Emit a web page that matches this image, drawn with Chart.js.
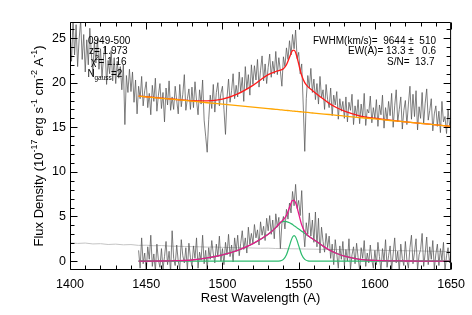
<!DOCTYPE html>
<html>
<head>
<meta charset="utf-8">
<script src="https://cdn.jsdelivr.net/npm/chart.js@4.4.1/dist/chart.umd.min.js"></script>
<style>
  html, body { margin: 0; padding: 0; background: #fff; }
</style>
</head>
<body>
<canvas id="chart" width="472" height="315"></canvas>
<script>
// observed spectrum, 1 A bins from 1400 to 1650
const topStart = 1400
const topFlux = [
  25.8, 22.4, 27.2, 23.1, 26.5, 21.8, 24.9, 27.0, 22.6, 25.4,
  21.2, 24.8, 22.0, 26.1, 23.3, 20.9, 24.6, 22.2, 25.0, 21.5,
  23.8, 20.6, 22.9, 24.1, 19.8, 22.5, 21.0, 23.6, 20.2, 22.8,
  19.9, 22.4, 20.5, 21.8, 19.2, 22.0, 15.3, 20.8, 18.9, 21.5,
  19.0, 21.2, 17.8, 20.3, 16.5, 19.6, 18.2, 20.7, 17.4, 19.1,
  20.1, 17.2, 18.8, 16.4, 19.7, 17.9, 20.5, 16.8, 18.6, 19.9,
  17.1, 18.9, 15.6, 19.4, 17.5, 20.2, 16.9, 18.4, 17.0, 19.6,
  18.0, 16.5, 19.8, 17.3, 18.7, 20.9, 16.9, 18.2, 19.3, 17.0,
  19.5, 17.2, 20.1, 18.0, 16.4, 19.2, 17.6, 20.3, 15.8, 14.0,
  12.2, 15.9, 18.6, 17.1, 19.8, 16.7, 18.9, 20.0, 17.4, 18.8,
  19.6, 17.0, 14.2, 18.3, 20.4, 17.8, 19.1, 21.0, 18.2, 19.7,
  18.4, 21.2, 19.0, 20.6, 17.9, 21.8, 19.3, 20.9, 18.6, 22.0,
  19.8, 21.9, 20.3, 22.6, 19.5, 21.4, 23.0, 20.2, 22.1, 19.9,
  21.7, 23.2, 20.6, 22.4, 21.0, 23.5, 20.9, 22.8, 21.3, 19.6,
  22.9, 21.8, 23.9, 22.6, 24.7, 23.1, 25.4, 23.8, 25.9, 22.7,
  23.4, 21.0, 22.1, 17.5, 12.3, 18.2, 20.8, 19.4, 21.6, 18.9,
  20.4, 18.1, 19.9, 17.6, 20.7, 18.3, 19.2, 17.0, 19.8, 18.1,
  17.2, 19.4, 16.3, 18.6, 17.5, 19.0, 15.9, 18.2, 16.8, 17.9,
  16.0, 18.4, 15.6, 17.8, 16.9, 18.7, 15.3, 17.4, 16.2, 18.1,
  15.4, 17.6, 16.1, 18.8, 15.2, 17.0, 16.6, 18.5, 15.5, 17.2,
  16.0, 18.1, 15.1, 17.5, 16.4, 18.6, 14.9, 17.2, 15.8, 17.9,
  16.3, 18.8, 15.0, 17.4, 19.2, 15.6, 17.0, 18.4, 14.8, 16.9,
  18.0, 15.3, 17.6, 19.6, 15.9, 18.7, 16.2, 19.1, 14.7, 17.3,
  16.0, 18.9, 15.4, 17.7, 19.3, 15.8, 16.9, 18.2, 14.6, 16.5,
  17.4, 15.1, 16.8, 14.4, 17.9, 15.6, 16.2, 14.3, 17.0, 15.2,
  15.8,
]

// continuum-subtracted spectrum, 1 A bins from 1445 to 1650
const lowStart = 1445
const lowFlux = [
  1.2, -0.8, 2.6, -0.3, 0.9,
  -1.2, 1.6, 0.2, 2.9, -0.6, 0.8, -1.1, 1.9, 0.1, -0.7,
  1.4, -0.9, 0.5, 2.2, -0.4, 1.1, -1.3, 3.4, 0.3, -0.5,
  1.8, 0.0, -0.9, 2.4, 0.6, -0.2, 1.5, -1.0, 2.0, 0.4,
  -0.6, 1.7, 0.3, 2.6, -0.8, 1.0, 0.1, 2.9, -0.3, 1.2,
  -0.9, 1.5, 0.2, 2.3, 0.8, -0.2, 1.9, 0.5, 2.8, 0.0,
  1.4, -0.4, 2.1, 0.7, 3.0, 0.5, 1.8, -0.1, 2.6, 1.1,
  2.9, 0.6, 2.0, 3.4, 1.3, 2.6, 0.9, 3.8, 1.9, 3.1,
  2.0, 4.1, 2.6, 3.5, 1.8, 4.4, 2.9, 3.9, 2.3, 4.8,
  3.4, 5.1, 3.0, 4.6, 2.5, 5.3, 3.8, 4.9, 1.4, 4.2,
  5.0, 3.6, 5.8, 4.7, 6.5, 5.4, 7.8, 6.2, 8.6, 5.9,
  6.8, 5.1, 7.9, 3.8, 1.6, 4.3, 3.0, 5.4, 2.8, 4.6,
  2.1, 5.5, 1.6, 4.8, 0.9, 3.8, 2.2, 1.0, 3.1, 1.5,
  2.8, 0.3, 1.9, -0.4, 2.4, 0.8, -0.8, 1.7, 0.2, 2.2,
  -0.5, 1.3, 0.0, 2.5, -0.9, 0.7, 1.6, -0.3, 2.0, 0.4,
  -1.0, 1.5, 0.3, 2.3, -0.6, 0.9, -0.2, 1.8, 0.1, -0.8,
  1.2, -0.4, 2.1, 0.5, -1.1, 1.4, 0.0, 2.4, -0.7, 0.6,
  1.7, -0.9, 0.8, 2.6, -0.2, 1.1, -1.2, 1.9, 0.3, -0.5,
  2.2, 0.1, -0.8, 1.5, 2.9, -0.3, 1.0, 2.5, -1.0, 0.7,
  1.3, 3.1, -0.6, 0.9, 2.7, -0.4, 1.6, 0.2, 2.3, -0.9,
  0.8, 1.9, -0.5, 1.4, 0.1, 2.1, -1.1, 0.6, 1.5, -0.2,
  0.9,
]

// error spectrum, 5 A bins from 1400
const errStart = 1400
const errStep = 5
const errFlux = [
  2.05, 1.98, 2.02, 1.92, 1.95, 1.86, 1.9, 1.82, 1.85, 1.76,
  1.78, 1.72, 1.74, 1.68, 1.66, 1.64, 1.62, 1.6, 1.57, 1.58,
  1.54, 1.52, 1.5, 1.49, 1.46, 1.44, 1.45, 1.41, 1.4, 1.38,
  1.37, 1.35, 1.34, 1.32, 1.3, 1.29, 1.27, 1.26, 1.24, 1.23,
  1.22, 1.2, 1.19, 1.17, 1.16, 1.14, 1.13, 1.11, 1.1, 1.08,
  1.07,
]

// fit curves, sampled on modelWave
const modelWave = [1445, 1460, 1470, 1480, 1490, 1500, 1510, 1520, 1530, 1535, 1538, 1540, 1542, 1544, 1545, 1546, 1547, 1548, 1549, 1550, 1552, 1554, 1556, 1558, 1560, 1565, 1570, 1575, 1580, 1590, 1600, 1610, 1620, 1630, 1640, 1650]
const broadComp = [0, 0.01, 0.04, 0.12, 0.35, 0.7, 1.2, 1.95, 3.0, 3.75, 4.3, 4.45, 4.42, 4.3, 4.2, 4.1, 3.95, 3.85, 3.72, 3.6, 3.35, 3.1, 2.85, 2.62, 2.4, 1.8, 1.25, 0.85, 0.55, 0.2, 0.08, 0.03, 0.01, 0, 0, 0]
const narrowComp = [0, 0, 0, 0, 0, 0, 0, 0, 0, 0, 0.03, 0.19, 0.71, 1.73, 2.28, 2.7, 2.85, 2.7, 2.28, 1.73, 0.71, 0.19, 0.03, 0, 0, 0, 0, 0, 0, 0, 0, 0, 0, 0, 0, 0]
const totalFit = [0, 0.01, 0.04, 0.12, 0.35, 0.7, 1.2, 1.95, 3.0, 3.75, 4.33, 4.64, 5.13, 6.03, 6.48, 6.8, 6.8, 6.55, 6.0, 5.33, 4.06, 3.29, 2.88, 2.62, 2.4, 1.8, 1.25, 0.85, 0.55, 0.2, 0.08, 0.03, 0.01, 0, 0, 0]
const continuum = [18.5, 18.25, 18.09, 17.92, 17.75, 17.59, 17.42, 17.26, 17.09, 17.01, 16.96, 16.92, 16.89, 16.86, 16.84, 16.82, 16.81, 16.79, 16.77, 16.76, 16.72, 16.69, 16.66, 16.62, 16.59, 16.51, 16.43, 16.34, 16.26, 16.09, 15.93, 15.76, 15.6, 15.43, 15.27, 15.1]
const topFit = [18.5, 18.26, 18.11, 17.97, 17.95, 18.15, 18.75, 19.7, 20.9, 21.25, 21.4, 21.55, 22.0, 22.85, 23.3, 23.6, 23.65, 23.38, 22.8, 22.1, 20.8, 20.0, 19.55, 19.25, 18.99, 18.31, 17.68, 17.19, 16.81, 16.29, 16.01, 15.79, 15.61, 15.43, 15.27, 15.1]

// axes
const xMin = 1400, xMax = 1650
const yMin = -1, yMax = 26.8
const xTicks = [1400, 1450, 1500, 1550, 1600, 1650]
const yTicks = [0, 5, 10, 15, 20, 25]
const xMinorStep = 10, yMinorStep = 1

const xTitle = "Rest Wavelength (A)"
// [text, isSuperscript]
const yTitleParts = [["Flux Density (10", false], ["-17", true], [" erg s", false], ["-1", true], [" cm", false], ["-2", true], [" A", false], ["-1", true], [")", false]]
const leftNotes = ["0949-500", "z= 1.973", "1.16", "2"]
const rightNotes = ["FWHM(km/s)=  9644 \u00b1  510", "EW(A)= 13.3 \u00b1   0.6", "S/N=  13.7"]

const FONT = '"Liberation Sans", Arial, Helvetica, sans-serif'

function points(xs, ys) {
  return ys.map((y, i) => ({ x: xs[i], y: y }))
}
function grid(start, step, n) {
  return Array.from({ length: n }, (_, i) => start + i * step)
}

const framePlugin = {
  id: "frame",
  afterDraw(chart) {
    const { ctx, chartArea: a, scales: { x, y } } = chart
    const L = a.left + 0.5, R = a.right - 0.5, T = a.top + 0.5, B = a.bottom - 0.5
    ctx.save()
    ctx.strokeStyle = "#000"
    ctx.lineWidth = 1
    ctx.beginPath()
    ctx.rect(L, T, R - L, B - T)
    for (let v = xMin; v <= xMax; v += xMinorStep) {
      const px = Math.round(x.getPixelForValue(v)) + 0.5
      const len = v % 50 === 0 ? 7 : 4
      ctx.moveTo(px, B); ctx.lineTo(px, B - len)
      ctx.moveTo(px, T); ctx.lineTo(px, T + len)
    }
    for (let v = Math.ceil(yMin) + 1; v <= yMax; v += yMinorStep) {
      const py = Math.round(y.getPixelForValue(v)) + 0.5
      const len = v % 5 === 0 ? 7 : 4
      ctx.moveTo(L, py); ctx.lineTo(L + len, py)
      ctx.moveTo(R, py); ctx.lineTo(R - len, py)
    }
    ctx.stroke()

    // y title with superscripts
    ctx.fillStyle = "#000"
    ctx.textBaseline = "alphabetic"
    const big = "13px " + FONT, small = "9px " + FONT
    let total = 0
    yTitleParts.forEach(([t, sup]) => { ctx.font = sup ? small : big; total += ctx.measureText(t).width })
    ctx.translate(38, (a.top + a.bottom) / 2)
    ctx.rotate(-Math.PI / 2)
    let cx = -total / 2
    yTitleParts.forEach(([t, sup]) => {
      ctx.font = sup ? small : big
      ctx.fillText(t, cx, sup ? -1 : 4.5)
      cx += ctx.measureText(t).width
    })
    ctx.setTransform(1, 0, 0, 1, 0, 0)

    // annotations
    ctx.font = "10px " + FONT
    ctx.textAlign = "left"
    ctx.fillText(leftNotes[0], 88, 43.5)
    ctx.fillText(leftNotes[1], 89, 54.3)
    ctx.fillText("\u03c7", 91, 65)
    ctx.font = "7px " + FONT
    ctx.fillText("2", 95, 60)
    ctx.font = "10px " + FONT
    ctx.fillText("= " + leftNotes[2], 98.5, 65)
    ctx.fillText("N", 87.5, 76.7)
    ctx.font = "6.5px " + FONT
    ctx.fillText("gauss", 94.5, 80)
    ctx.font = "10px " + FONT
    ctx.fillText("=" + leftNotes[3], 111, 76.7)

    ctx.textAlign = "right"
    ctx.fillText(rightNotes[0], 436, 43.5)
    ctx.fillText(rightNotes[1], 436, 54.3)
    ctx.fillText(rightNotes[2], 434.5, 65)
    ctx.restore()
  },
}

const line = (data, color, width, smooth) => ({
  data: data,
  borderColor: color,
  borderWidth: width,
  pointRadius: 0,
  fill: false,
  tension: 0,
  cubicInterpolationMode: smooth ? "monotone" : "default",
})

new Chart(document.getElementById("chart"), {
  type: "line",
  data: {
    datasets: [
      line(points(modelWave, totalFit), "#e8168a", 1.3, true),
      line(points(modelWave, narrowComp), "#2dbb6e", 1.2, true),
      line(points(modelWave, broadComp), "#2dbb6e", 1.2, true),
      line(points(modelWave, continuum), "#ffa500", 1.3, true),
      line(points(modelWave, topFit), "#ff1a1a", 1.3, true),
      line(points(grid(topStart, 1, topFlux.length), topFlux), "#555555", 0.75, false),
      line(points(grid(lowStart, 1, lowFlux.length), lowFlux), "#555555", 0.75, false),
      line(points(grid(errStart, errStep, errFlux.length), errFlux), "#c4c4c4", 1, false),
    ],
  },
  options: {
    responsive: false,
    animation: false,
    events: [],
    layout: { padding: { top: 22, right: 20, left: 0, bottom: 0 } },
    plugins: { legend: { display: false }, tooltip: { enabled: false } },
    scales: {
      x: {
        type: "linear",
        min: xMin,
        max: xMax,
        grid: { display: false, drawTicks: false },
        border: { display: false },
        afterBuildTicks: (s) => { s.ticks = xTicks.map((v) => ({ value: v })) },
        afterFit: (s) => { s.height = 45 },
        ticks: { color: "#000", font: { family: FONT, size: 12.5 }, padding: 7, maxRotation: 0, autoSkip: false, callback: (v) => String(v) },
        title: { display: true, text: xTitle, color: "#000", font: { family: FONT, size: 13 }, padding: { top: 0, bottom: 9 } },
      },
      y: {
        type: "linear",
        min: yMin,
        max: yMax,
        grid: { display: false, drawTicks: false },
        border: { display: false },
        afterBuildTicks: (s) => { s.ticks = yTicks.map((v) => ({ value: v })) },
        afterFit: (s) => { s.width = 70 },
        ticks: { color: "#000", font: { family: FONT, size: 12.5 }, padding: 4, autoSkip: false, callback: (v) => String(v) },
      },
    },
  },
  plugins: [framePlugin],
})
</script>
</body>
</html>
